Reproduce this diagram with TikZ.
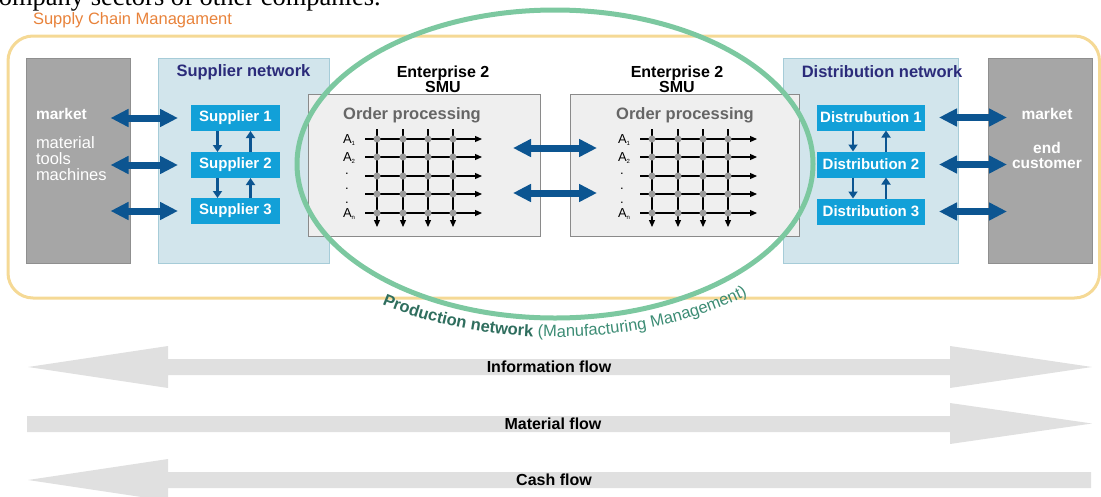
\documentclass[tikz,border=0pt]{standalone}
\usepackage{fontspec}
\setmainfont{Liberation Sans}
\newfontfamily\serifnt{Liberation Serif}
\usetikzlibrary{arrows.meta,decorations.text,calc}

\definecolor{scmyellow}{HTML}{F5D995}
\definecolor{scmorange}{HTML}{E8823A}
\definecolor{mktgray}{HTML}{A6A6A6}
\definecolor{mktborder}{HTML}{8F8F8F}
\definecolor{netblue}{HTML}{D2E5EC}
\definecolor{netborder}{HTML}{A6CCD8}
\definecolor{navy}{HTML}{2B2B7A}
\definecolor{boxblue}{HTML}{12A0D8}
\definecolor{arrblue}{HTML}{0C5591}
\definecolor{entfill}{HTML}{EFEFEF}
\definecolor{entborder}{HTML}{8A8A8A}
\definecolor{ordergray}{HTML}{666666}
\definecolor{dotgray}{HTML}{9C9C9C}
\definecolor{prodgreen}{HTML}{7CC8A0}
\definecolor{prodtext}{HTML}{2F6E5E}
\definecolor{prodtext2}{HTML}{3C8C74}
\definecolor{flowgray}{HTML}{E0E0E0}

\begin{document}
\begin{tikzpicture}[x=1pt,y=-1pt,
  every node/.style={inner sep=0pt, outer sep=0pt},
  column/.style={draw=mktborder, fill=mktgray, line width=0.8pt, minimum width=104pt, minimum height=205pt},
  network/.style={draw=netborder, fill=netblue, line width=0.8pt, minimum width=#1, minimum height=205pt},
  nettitle/.style={text=navy, font=\fontsize{16.5}{18}\selectfont\bfseries},
  entbox/.style={draw=entborder, fill=entfill, line width=0.9pt, minimum width=#1, minimum height=142pt},
  enttitle/.style={align=center, font=\fontsize{16}{15}\selectfont\bfseries},
  ordertitle/.style={text=ordergray, font=\fontsize{16.5}{18}\selectfont\bfseries},
  member/.style={fill=boxblue, text=white, minimum width=#1, minimum height=26pt, font=\fontsize{15}{17}\selectfont\bfseries},
  whitebold/.style={text=white, font=\fontsize{15.5}{17}\selectfont\bfseries},
  whitereg/.style={text=white, font=\fontsize{16.5}{16}\selectfont, align=left},
  bigarrow/.style={arrblue, line width=7pt, {Triangle[width=17pt,length=18pt]}-{Triangle[width=17pt,length=18pt]}},
  smallarrow/.style={arrblue, line width=2.5pt, -{Triangle[width=9pt,length=7pt]}},
  gridarrow/.style={black, line width=1.2pt, -{Triangle[width=6pt,length=7pt]}},
  alabel/.style={anchor=base west, font=\fontsize{13}{14}\selectfont},
  flowarrow/.style={fill=flowgray},
  flowlabel/.style={font=\fontsize{16}{18}\selectfont\bfseries}
]
\useasboundingbox (0,0) rectangle (1101,496);
\clip (0,0) rectangle (1101,496);

% cut-off text at the top
\node[anchor=base west, font=\serifnt\fontsize{26.5}{28}\selectfont] (toptext) at (-13,5) {company sectors of other companies.};

% supply chain frame
\node[anchor=west, text=scmorange, font=\fontsize{16.5}{18}\selectfont] (scm) at (33,20) {Supply Chain Managament};
\draw[scmyellow, line width=3pt, rounded corners=25pt] (8,36) rectangle (1099.5,298);

% columns
\node[column] (mktL) at (78.5,160.5) {};
\node[column] (mktR) at (1040,160.5) {};
\node[network=171pt] (supnet) at (243.5,160.5) {};
\node[network=175pt] (disnet) at (870.5,160.5) {};
\node[nettitle] (suptitle) at (243.5,72) {Supplier network};
\node[nettitle] (distitle) at (882,72) {Distribution network};

\node[whitebold, anchor=west] (mktLt) at (36,114) {market};
\node[whitereg, anchor=north west] (mktLm) at (36,137) {material\\tools\\machines};
\node[whitebold] (mktRt) at (1047,114) {market};
\node[whitebold, align=center, font=\fontsize{15.5}{15}\selectfont\bfseries] (mktRc) at (1047,155) {end\\customer};

% enterprises
\node[entbox=232pt] (ent1) at (424,165) {};
\node[entbox=229pt] (ent2) at (684.5,165) {};
\node[enttitle] (ent1t) at (443,79.5) {Enterprise 2\\SMU};
\node[enttitle] (ent2t) at (677,79.5) {Enterprise 2\\SMU};
\node[ordertitle] (ord1) at (412,115) {Order processing};
\node[ordertitle] (ord2) at (685,115) {Order processing};

\foreach \dx/\g in {0/l,275/r}{
  \begin{scope}[xshift=\dx pt]
    \foreach \y in {139,157,176,194,213} \draw[gridarrow] (365,\y) -- (482,\y);
    \foreach \x in {377,403,428,453} \draw[gridarrow] (\x,129) -- (\x,227);
    \foreach \x in {377,403,428,453} \foreach \y in {139,157,176,194,213} \fill[dotgray] (\x,\y) circle (3.5);
    \node[alabel] (a1\g) at (343,143.5) {A\textsubscript{\fontsize{6}{6}\selectfont 1}};
    \node[alabel] (a2\g) at (343,161.5) {A\textsubscript{\fontsize{6}{6}\selectfont 2}};
    \node[alabel] (d1\g) at (345,174) {.};
    \node[alabel] (d2\g) at (345,189) {.};
    \node[alabel] (d3\g) at (345,203) {.};
    \node[alabel] (an\g) at (343,217.5) {A\textsubscript{\fontsize{6}{6}\selectfont n}};
  \end{scope}
}

% suppliers
\node[member=89pt] (s1) at (235.5,118) {Supplier 1};
\node[member=89pt] (s2) at (235.5,165) {Supplier 2};
\node[member=89pt] (s3) at (235.5,211) {Supplier 3};
% distributors
\node[member=108pt] (t1) at (871,117.5) {Distrubution 1};
\node[member=108pt] (t2) at (871,164.5) {Distribution 2};
\node[member=108pt] (t3) at (871,211.5) {Distribution 3};

% small vertical arrows
\draw[smallarrow] ($(s1.south)+(-18,0)$) -- ($(s2.north)+(-18,0)$);
\draw[smallarrow] ($(s2.north)+(15,0)$) -- ($(s1.south)+(15,0)$);
\draw[smallarrow] ($(s2.south)+(-18,0)$) -- ($(s3.north)+(-18,0)$);
\draw[smallarrow] ($(s3.north)+(15,0)$) -- ($(s2.south)+(15,0)$);
\draw[smallarrow] ($(t1.south)+(-18,0)$) -- ($(t2.north)+(-18,0)$);
\draw[smallarrow] ($(t2.north)+(15,0)$) -- ($(t1.south)+(15,0)$);
\draw[smallarrow] ($(t2.south)+(-18,0)$) -- ($(t3.north)+(-18,0)$);
\draw[smallarrow] ($(t3.north)+(15,0)$) -- ($(t2.south)+(15,0)$);

% big double arrows
\foreach \s in {s1,s2,s3}
  \draw[bigarrow] ($(mktL.east |- \s)+(-20,0)$) -- ($(\s.west)+(-13,0)$);
\foreach \t in {t1,t2,t3}
  \draw[bigarrow] ($(\t.east)+(14,0)$) -- ($(mktR.west |- \t)+(19,0)$);
\draw[bigarrow] ($(ent1.east)+(-27,-17)$) -- ($(ent2.west)+(27,-17)$);
\draw[bigarrow] ($(ent1.east)+(-27,28)$) -- ($(ent2.west)+(27,28)$);

% production network ellipse
\draw[prodgreen, line width=5pt] (555,164) ellipse [x radius=258, y radius=154];
\path[decorate, decoration={text along path, text align=center, text color=prodtext,
  text={|\fontsize{16.5}{18}\selectfont\bfseries|Production network |\fontsize{16.5}{18}\selectfont\mdseries\color{prodtext2}|(Manufacturing Management)}}]
  (555,164) ++(148:295 and 173) arc[start angle=148, end angle=26, x radius=295, y radius=173];

% flows
\fill[flowarrow] (28,367) -- (168,346) -- (168,359) -- (950,359) -- (950,346) -- (1092,367)
  -- (950,388) -- (950,375) -- (168,375) -- (168,388) -- cycle;
\fill[flowarrow] (27,416) -- (950,416) -- (950,403) -- (1092,423.5) -- (950,444) -- (950,432) -- (27,432) -- cycle;
\fill[flowarrow] (28,480) -- (168,459) -- (168,472) -- (1091,472) -- (1091,488) -- (168,488) -- (168,501) -- cycle;
\node[flowlabel] (info) at (549,367) {Information flow};
\node[flowlabel] (mat) at (553,424) {Material flow};
\node[flowlabel] (cash) at (554,480) {Cash flow};
\end{tikzpicture}
\end{document}
